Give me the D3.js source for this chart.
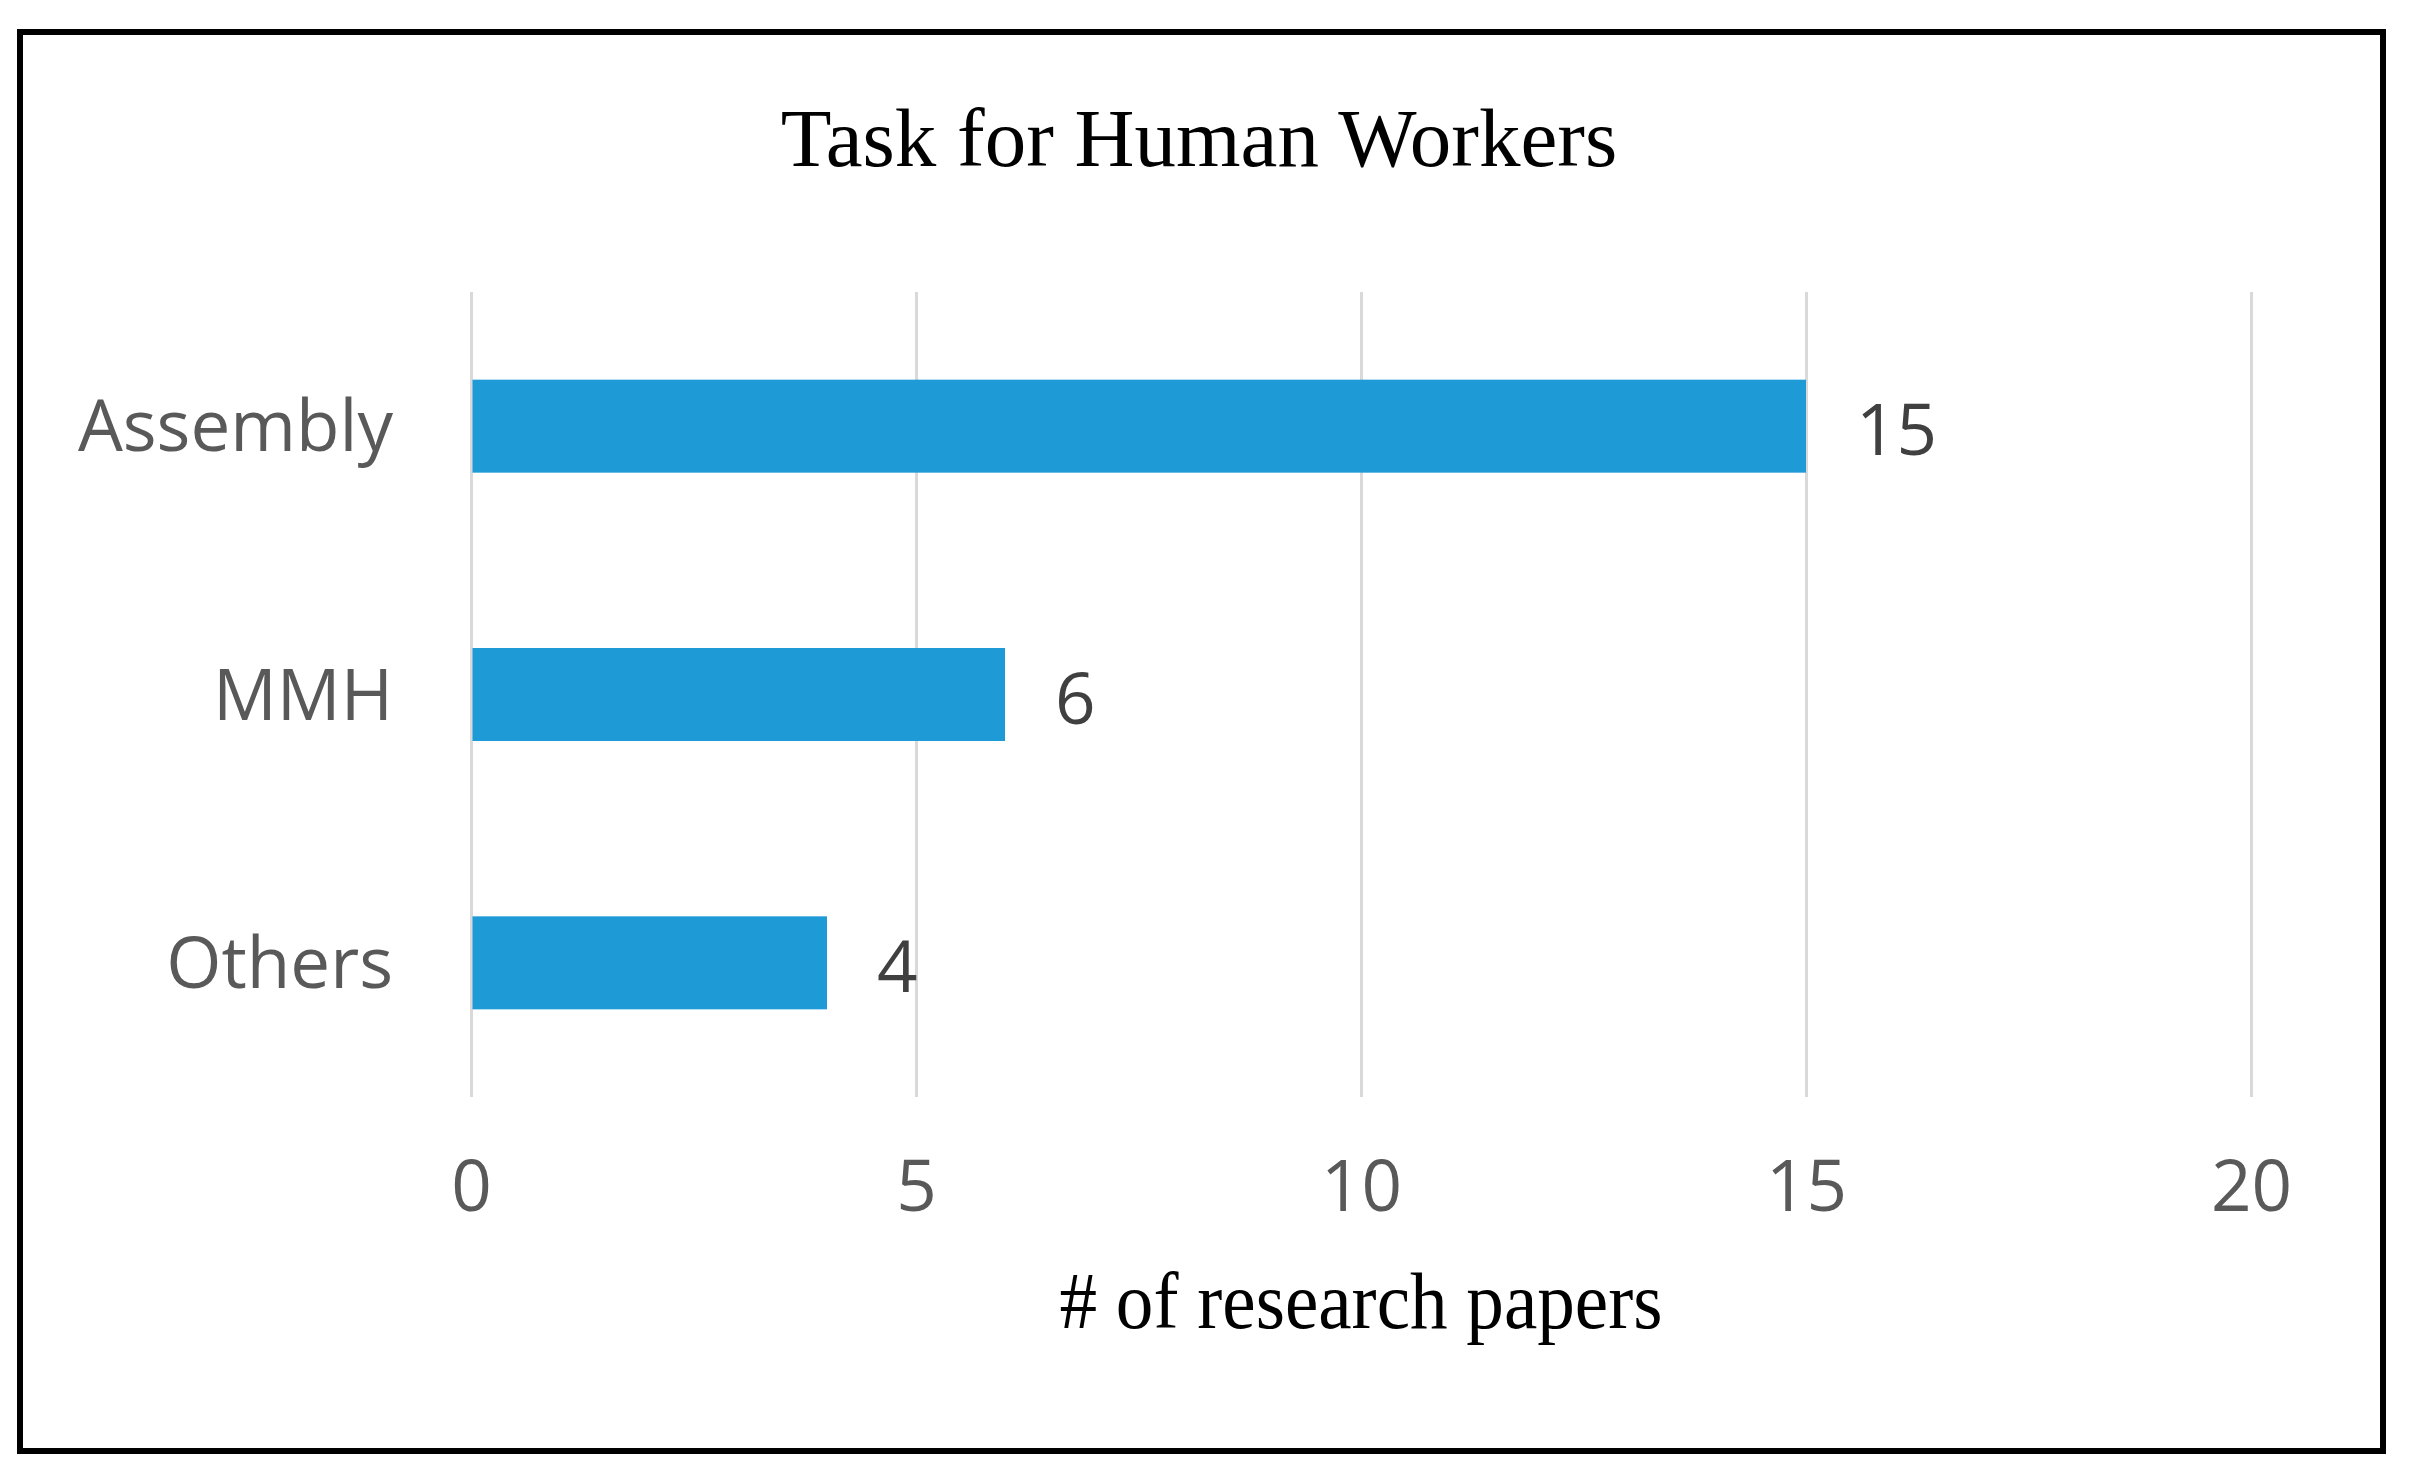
<!DOCTYPE html>
<html>
<head>
<meta charset="utf-8">
<script src="https://cdn.jsdelivr.net/npm/d3@7"></script>
<style>
  html, body { margin: 0; padding: 0; background: #ffffff; }
  svg { display: block; }
</style>
</head>
<body>
<svg id="chart" width="2412" height="1475"></svg>
<script>
// ---- data ----
const categories = ["Assembly", "MMH", "Others"];
const values = [15, 6, 4];
const xTicks = [0, 5, 10, 15, 20];
const chartTitle = "Task for Human Workers";
const xAxisTitle = "# of research papers";

// ---- layout ----
const W = 2412, H = 1475;
const plot = { left: 471, right: 2251, top: 292, bottom: 1097 };
const sansFont = "'Open Sans', 'Noto Sans', sans-serif";
const serifFont = "'Liberation Serif', 'Times New Roman', serif";

const svg = d3.select("#chart");

svg.append("rect")
  .attr("x", 0).attr("y", 0).attr("width", W).attr("height", H)
  .attr("fill", "#ffffff");

// outer frame
svg.append("rect")
  .attr("x", 20).attr("y", 32)
  .attr("width", 2383 - 20).attr("height", 1451 - 32)
  .attr("fill", "none").attr("stroke", "#000000").attr("stroke-width", 6);

const x = d3.scaleLinear().domain([0, 20]).range([plot.left, plot.right]);
const p = 0.6534;
const y = d3.scaleBand().domain(categories)
  .range([plot.top, plot.bottom]).paddingInner(p).paddingOuter(p / 2);

// vertical gridlines
const grid = svg.append("g")
  .attr("transform", `translate(0,${plot.bottom})`)
  .call(d3.axisBottom(x).tickValues(xTicks).tickSize(-(plot.bottom - plot.top)).tickFormat(""));
grid.select(".domain").remove();
grid.selectAll(".tick line").attr("stroke", "#d9d9d9").attr("stroke-width", 3);

// bars
svg.append("g").selectAll("rect")
  .data(categories)
  .join("rect")
  .attr("x", x(0) + 1.5)
  .attr("y", d => y(d))
  .attr("width", (d, i) => x(values[i]) - x(0) - 1.5)
  .attr("height", y.bandwidth())
  .attr("fill", "#1e9bd7");

// value labels
svg.append("g").selectAll("text")
  .data(categories)
  .join("text")
  .attr("x", (d, i) => x(values[i]) + 50)
  .attr("y", d => y(d) + y.bandwidth() / 2 + 29)
  .attr("font-family", sansFont)
  .attr("font-size", 71)
  .attr("fill", "#404040")
  .text((d, i) => values[i]);

// x tick labels
const xAxis = svg.append("g")
  .attr("transform", `translate(0,${plot.bottom})`)
  .call(d3.axisBottom(x).tickValues(xTicks).tickSize(0).tickPadding(0));
xAxis.select(".domain").remove();
xAxis.selectAll(".tick text")
  .attr("y", 114)
  .attr("dy", null)
  .attr("font-family", sansFont)
  .attr("font-size", 71)
  .attr("fill", "#595959");

// y category labels
const yAxis = svg.append("g")
  .attr("transform", `translate(${plot.left},0)`)
  .call(d3.axisLeft(y).tickSize(0).tickPadding(0));
yAxis.select(".domain").remove();
yAxis.selectAll(".tick text")
  .attr("x", -78)
  .attr("dy", null)
  .attr("y", 25)
  .attr("text-anchor", "end")
  .attr("font-family", sansFont)
  .attr("font-size", 71)
  .attr("fill", "#595959");

// chart title
svg.append("text")
  .attr("x", 1199).attr("y", 166)
  .attr("text-anchor", "middle")
  .attr("font-family", serifFont)
  .attr("font-size", 83)
  .attr("fill", "#000000")
  .text(chartTitle);

// x axis title
svg.append("text")
  .attr("x", (plot.left + plot.right) / 2).attr("y", 1328)
  .attr("text-anchor", "middle")
  .attr("font-family", serifFont)
  .attr("font-size", 80)
  .attr("textLength", 603)
  .attr("lengthAdjust", "spacingAndGlyphs")
  .attr("fill", "#000000")
  .text(xAxisTitle);
</script>
</body>
</html>
